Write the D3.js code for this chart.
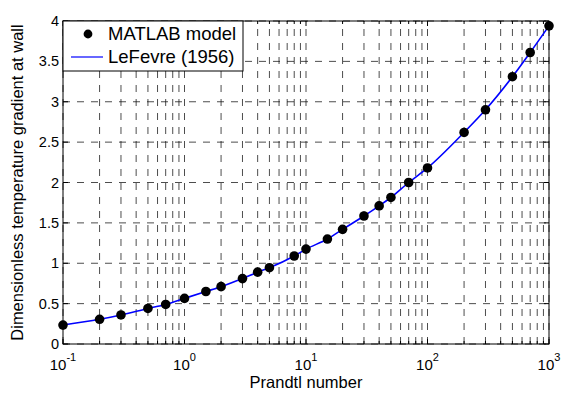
<!DOCTYPE html>
<html>
<head>
<meta charset="utf-8">
<script src="https://cdn.jsdelivr.net/npm/d3@7"></script>
<style>
body{margin:0;background:#fff;}
text{font-family:"Liberation Sans",Arial,sans-serif;fill:#000;}
</style>
</head>
<body>
<div id="chart"></div>
<script>
// Prandtl numbers of the model runs
var prandtl = [0.1,0.2,0.3,0.5,0.7,1,1.5,2,3,4,5,8,10,15,20,30,40,50,70,100,200,300,500,700,1000];
// wall temperature gradient, MATLAB model
var modelGrad = [0.235,0.306,0.36,0.44,0.49,0.565,0.65,0.71,0.81,0.89,0.945,1.09,1.175,1.30,1.42,1.585,1.71,1.815,2.0,2.18,2.62,2.90,3.31,3.61,3.94];
// LeFevre (1956) correlation
var lefevreGrad = [0.235,0.306,0.36,0.44,0.49,0.565,0.65,0.71,0.81,0.89,0.945,1.09,1.175,1.30,1.42,1.585,1.71,1.815,2.0,2.18,2.62,2.90,3.31,3.61,3.94];
var xTicks = [0.1,1,10,100,1000];
var xExp = ["-1","0","1","2","3"];
var yTicks = [0,0.5,1,1.5,2,2.5,3,3.5,4];
var legendNames = ["MATLAB model","LeFevre (1956)"];

var W = 563, H = 396;
// plot box (note: "top" is taken by window.top)
var pLeft = 63, pRight = 549, pTop = 21, pBottom = 344;

var svg = d3.select("#chart").append("svg").attr("width",W).attr("height",H);

var x = d3.scaleLog().domain([0.1,1000]).range([pLeft,pRight]);
var y = d3.scaleLinear().domain([0,4]).range([pBottom,pTop]);

// minor x positions (2..9 in each decade)
var minors = [];
for (var d = 0; d < 4; d++){
	for (var k = 2; k <= 9; k++){
		minors.push(k * Math.pow(10,d-1));
	}
}

var dash = "7,7";
var gridColor = "#111";

// grid
var grid = svg.append("g").attr("class","grid");
grid.selectAll(".vg").data(xTicks.concat(minors)).enter().append("line")
	.attr("x1",function(d){return x(d);})
	.attr("x2",function(d){return x(d);})
	.attr("y1",pBottom).attr("y2",pTop)
	.style("stroke",gridColor).style("stroke-width",0.75)
	.style("stroke-dasharray",dash);
grid.selectAll(".hg").data(yTicks).enter().append("line")
	.attr("x1",pLeft).attr("x2",pRight)
	.attr("y1",function(d){return y(d);})
	.attr("y2",function(d){return y(d);})
	.style("stroke",gridColor).style("stroke-width",0.75)
	.style("stroke-dasharray",dash);

// ticks inside on all four sides
var ticks = svg.append("g").attr("class","ticks");
function xt(data,len){
	ticks.selectAll(null).data(data).enter().append("line")
		.attr("x1",function(d){return x(d);}).attr("x2",function(d){return x(d);})
		.attr("y1",pBottom).attr("y2",pBottom-len).style("stroke","#000");
	ticks.selectAll(null).data(data).enter().append("line")
		.attr("x1",function(d){return x(d);}).attr("x2",function(d){return x(d);})
		.attr("y1",pTop).attr("y2",pTop+len).style("stroke","#000");
}
xt(xTicks,5);
xt(minors,3);
ticks.selectAll(null).data(yTicks).enter().append("line")
	.attr("x1",pLeft).attr("x2",pLeft+5)
	.attr("y1",function(d){return y(d);}).attr("y2",function(d){return y(d);})
	.style("stroke","#000");
ticks.selectAll(null).data(yTicks).enter().append("line")
	.attr("x1",pRight).attr("x2",pRight-5)
	.attr("y1",function(d){return y(d);}).attr("y2",function(d){return y(d);})
	.style("stroke","#000");

// axes box
svg.append("rect").attr("x",pLeft).attr("y",pTop)
	.attr("width",pRight-pLeft).attr("height",pBottom-pTop)
	.style("fill","none").style("stroke","#000").style("stroke-width",1);

// tick labels
svg.selectAll(".yl").data(yTicks).enter().append("text")
	.attr("x",pLeft-4).attr("y",function(d){return y(d)+5;})
	.attr("text-anchor","end").style("font-size","14.5px")
	.text(function(d){return d;});

var xl = svg.selectAll(".xl").data(xTicks).enter().append("text")
	.attr("x",function(d){return x(d);}).attr("y",370)
	.attr("text-anchor","middle").style("font-size","15px");
xl.append("tspan").text("10");
xl.append("tspan").attr("dy",-9).style("font-size","11px")
	.text(function(d,i){return xExp[i];});

// axis titles
svg.append("text").attr("x",(pLeft+pRight)/2).attr("y",388)
	.attr("text-anchor","middle").style("font-size","16.5px").text("Prandtl number");
svg.append("text").attr("transform","translate(23," + ((pTop+pBottom)/2) + ") rotate(-90)")
	.attr("text-anchor","middle").style("font-size","16.5px")
	.text("Dimensionless temperature gradient at wall");

// LeFevre curve
var line = d3.line()
	.x(function(d,i){return x(prandtl[i]);})
	.y(function(d){return y(d);})
	.curve(d3.curveMonotoneX);
svg.append("path").datum(lefevreGrad).attr("d",line)
	.style("fill","none").style("stroke","#0000ff").style("stroke-width",1.6);

// model points
svg.selectAll(".pt").data(modelGrad).enter().append("circle")
	.attr("cx",function(d,i){return x(prandtl[i]);})
	.attr("cy",function(d){return y(d);})
	.attr("r",4.8).style("fill","#000");

// legend
var lg = svg.append("g").attr("class","legend");
lg.append("rect").attr("x",pLeft).attr("y",pTop).attr("width",180).attr("height",50)
	.style("fill","#fff").style("stroke","#000").style("stroke-width",1);
lg.append("circle").attr("cx",88).attr("cy",34).attr("r",4.4).style("fill","#000");
lg.append("line").attr("x1",71).attr("x2",103).attr("y1",57).attr("y2",57)
	.style("stroke","#0000ff").style("stroke-width",1.2);
lg.selectAll(".lt").data(legendNames).enter().append("text")
	.attr("x",108).attr("y",function(d,i){return 40 + i*23;})
	.style("font-size","18.5px").text(function(d){return d;});
</script>
</body>
</html>
